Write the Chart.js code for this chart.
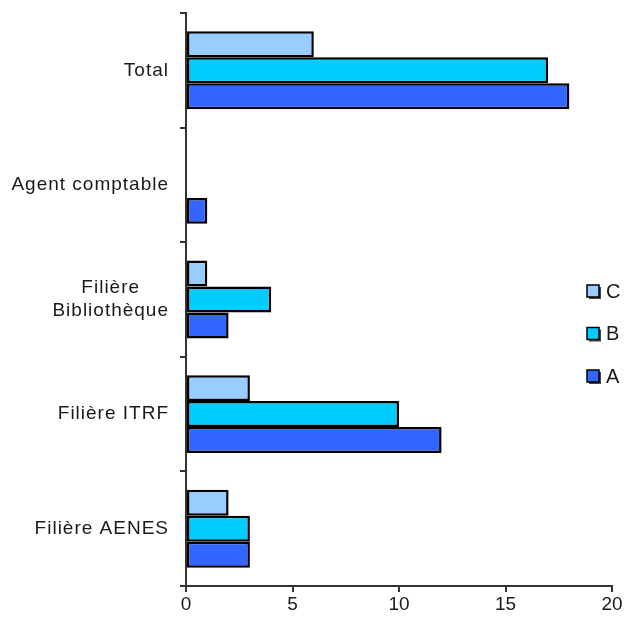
<!DOCTYPE html>
<html>
<head>
<meta charset="utf-8">
<script src="https://cdn.jsdelivr.net/npm/chart.js@4.4.0/dist/chart.umd.min.js"></script>
<style>
  html, body { margin: 0; padding: 0; background: #fff; }
  #wrap { width: 625px; height: 619px; }
</style>
</head>
<body>
<div id="wrap"><canvas id="graf"></canvas></div>
<script>
// categorias de arriba a abajo
const categorias = [["Total"], ["Agent comptable"], ["Filière", "Bibliothèque"], ["Filière ITRF"], ["Filière AENES"]];
const serieC = [6, 0, 1, 3, 2];
const serieB = [17, 0, 4, 10, 3];
const serieA = [18, 1, 2, 12, 3];
const ticksX = [0, 5, 10, 15, 20];

const colores = { C: "#99CCFF", B: "#00CCFF", A: "#3366FF" };
const familia = "'Liberation Sans', Arial, sans-serif";

// etiquetas del eje y dibujadas a mano (multilinea centrada)
const etiquetasY = {
    id: "etiquetasY",
    afterDraw(chart) {
        const ctx = chart.ctx;
        const y = chart.scales.y;
        ctx.save();
        ctx.font = "19px " + familia;
        ctx.letterSpacing = "1px";
        ctx.fillStyle = "#1a1a1a";
        ctx.textBaseline = "middle";
        ctx.textAlign = "center";
        categorias.forEach((lineas, i) => {
            const cy = y.getPixelForValue(i);
            const maxW = Math.max(...lineas.map(l => ctx.measureText(l).width));
            const cx = 169 - maxW / 2;
            lineas.forEach((l, j) => {
                ctx.fillText(l, cx, cy + (j - (lineas.length - 1) / 2) * 23);
            });
        });
        ctx.restore();
    }
};

// leyenda dentro del area, a la derecha
const leyenda = {
    id: "leyenda",
    afterDraw(chart) {
        const ctx = chart.ctx;
        ctx.save();
        ctx.font = "20px " + familia;
        ctx.textBaseline = "middle";
        ctx.textAlign = "left";
        chart.data.datasets.forEach((ds, i) => {
            const cy = 291 + i * 42.5;
            ctx.fillStyle = "#444";
            ctx.fillRect(589, cy - 4, 12, 12);
            ctx.fillStyle = ds.backgroundColor;
            ctx.fillRect(587, cy - 6, 12, 12);
            ctx.strokeStyle = "#000";
            ctx.lineWidth = 1.5;
            ctx.strokeRect(587, cy - 6, 12, 12);
            ctx.fillStyle = "#1a1a1a";
            ctx.fillText(ds.label, 606, cy + 1);
        });
        ctx.restore();
    }
};

const ctx = document.getElementById("graf").getContext("2d");
new Chart(ctx, {
    type: "bar",
    data: {
        labels: categorias.map(c => c.join(" ")),
        datasets: [
            { label: "C", data: serieC, backgroundColor: colores.C },
            { label: "B", data: serieB, backgroundColor: colores.B },
            { label: "A", data: serieA, backgroundColor: colores.A }
        ].map(ds => ({
            ...ds,
            borderColor: "#000",
            borderWidth: 2.5,
            borderSkipped: false,
            categoryPercentage: 0.68,
            barPercentage: 1
        }))
    },
    options: {
        indexAxis: "y",
        responsive: true,
        maintainAspectRatio: false,
        animation: false,
        layout: { padding: { top: 13, right: 13, left: 0, bottom: 0 } },
        plugins: {
            legend: { display: false },
            tooltip: { enabled: false }
        },
        scales: {
            x: {
                min: 0,
                max: 20,
                afterFit: s => { s.height = 33; },
                afterBuildTicks: s => { s.ticks = ticksX.map(v => ({ value: v })); },
                border: { color: "#333", width: 2 },
                grid: { drawOnChartArea: false, tickLength: 6, color: "#333", lineWidth: 2 },
                ticks: { color: "#1a1a1a", font: { family: familia, size: 19 }, padding: 1, maxRotation: 0 }
            },
            y: {
                afterFit: s => { s.width = 186; },
                border: { color: "#333", width: 2 },
                grid: { drawOnChartArea: false, offset: true, tickLength: 6, color: "#333", lineWidth: 2 },
                ticks: { display: false }
            }
        }
    },
    plugins: [etiquetasY, leyenda]
});
</script>
</body>
</html>
